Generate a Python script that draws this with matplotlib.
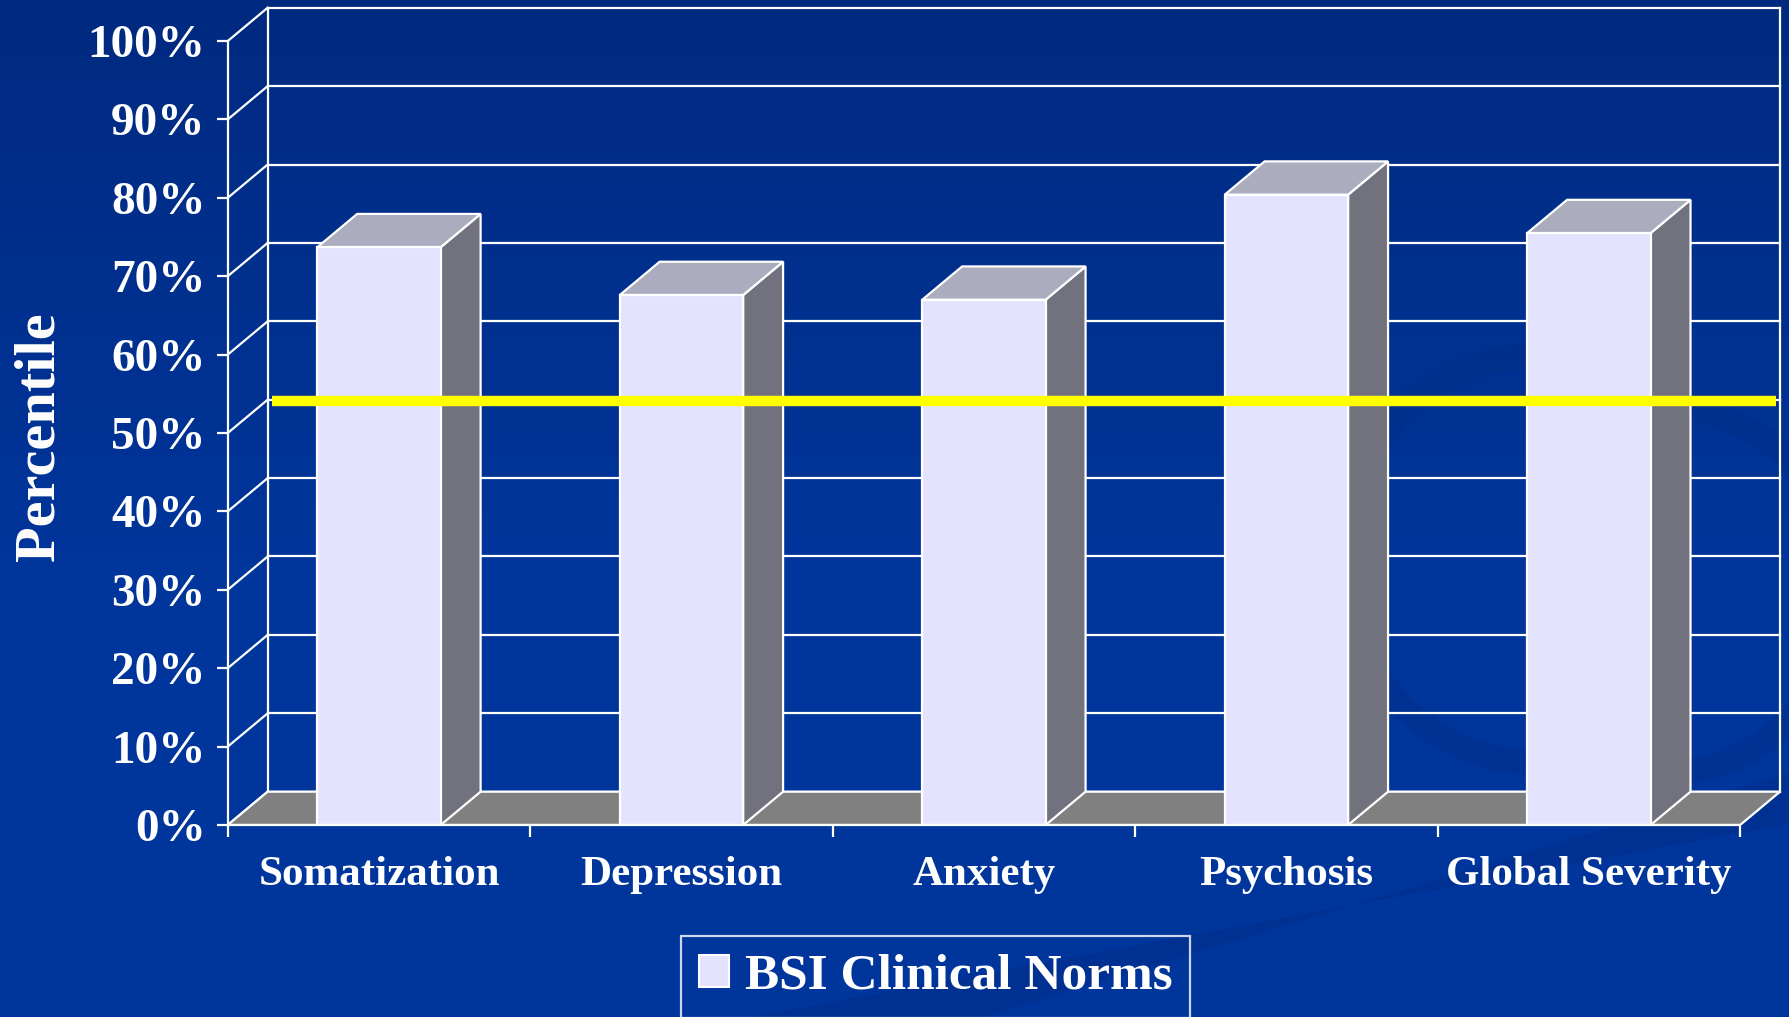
import matplotlib.pyplot as plt
import matplotlib.patches as patches
from matplotlib.colors import LinearSegmentedColormap
import numpy as np

categories = ["Somatization", "Depression", "Anxiety", "Psychosis", "Global Severity"]
percentiles = [73.7, 67.6, 67.0, 80.4, 75.5]
series_name = "BSI Clinical Norms"
yticks = list(range(0, 101, 10))
ytick_labels = [f"{v}%" for v in yticks]
reference_level = 54.1  # yellow line

BG = "#00359b"
FRONT = "#e3e3ff"
TOP = "#abacbe"
SIDE = "#72727f"
FLOOR = "#808080"
YELLOW = "#ffff00"

# 3d look: depth offset in data units, bar width in category units
DX, DY = 0.132, 4.25
BAR_W = 0.408
LW = 1.6

plt.rcParams["font.family"] = ["Liberation Serif", "DejaVu Serif"]
plt.rcParams["font.weight"] = "bold"

fig = plt.figure(figsize=(17.89, 10.17), dpi=100)
fig.patch.set_facecolor(BG)

# slide background: darker at the top, faint swirl bands
bg = fig.add_axes([0, 0, 1, 1], zorder=-10)
bg.axis("off")
grad = np.clip(np.linspace(0, 1, 256) / 0.55, 0, 1)[:, None]
cmap = LinearSegmentedColormap.from_list("bg", ["#002a80", BG])
bg.imshow(grad, cmap=cmap, aspect="auto", extent=[0, 1, 0, 1], origin="upper")
bg.add_patch(patches.Polygon([(0.42, 0.0), (1.0, 0.19), (1.0, 0.24), (0.55, 0.0)],
                             closed=True, facecolor="#002a80", alpha=0.3, lw=0))
for cx, cy, w, h, t1, t2 in [(0.86, 0.45, 0.22, 0.40, 90, 270),
                             (0.93, 0.42, 0.20, 0.36, 270, 90)]:
    bg.add_patch(patches.Arc((cx, cy), w, h, theta1=t1, theta2=t2,
                             color="#002a80", lw=18, alpha=0.28))
bg.set_xlim(0, 1)
bg.set_ylim(0, 1)

n = len(categories)
ax = fig.add_axes([0.1273, 0.1888, 0.8677, 0.8036])
ax.set_xlim(0, n + DX)
ax.set_ylim(0, 100 + DY)
ax.patch.set_alpha(0)

# back wall grid and side diagonals
for v in yticks:
    ax.plot([DX, n + DX], [v + DY, v + DY], color="white", lw=LW, zorder=1, clip_on=False)
    ax.plot([0, DX], [v, v + DY], color="white", lw=LW, zorder=1, clip_on=False)
for xw in (DX, n + DX):
    ax.plot([xw, xw], [DY, 100 + DY], color="white", lw=LW, zorder=1, clip_on=False)

# floor
ax.add_patch(patches.Polygon([(0, 0), (n, 0), (n + DX, DY), (DX, DY)], closed=True,
                             facecolor=FLOOR, edgecolor="white", lw=LW, zorder=2))

# bars
for i, v in enumerate(percentiles):
    x0 = i + 0.5 - BAR_W / 2
    x1 = x0 + BAR_W
    side = [(x1, 0), (x1 + DX, DY), (x1 + DX, v + DY), (x1, v)]
    top = [(x0, v), (x1, v), (x1 + DX, v + DY), (x0 + DX, v + DY)]
    ax.add_patch(patches.Polygon(side, closed=True, facecolor=SIDE,
                                 edgecolor="white", lw=LW, zorder=3))
    ax.add_patch(patches.Polygon(top, closed=True, facecolor=TOP,
                                 edgecolor="white", lw=LW, zorder=3))
    ax.add_patch(patches.Rectangle((x0, 0), BAR_W, v, facecolor=FRONT,
                                   edgecolor="white", lw=LW, zorder=4))

# yellow reference line
ax.plot([DX + 0.015, n + DX - 0.013], [reference_level, reference_level],
        color=YELLOW, lw=7.5, solid_capstyle="butt", zorder=10)

# axes
for s in ("top", "right"):
    ax.spines[s].set_visible(False)
ax.spines["left"].set_bounds(0, 100)
ax.spines["bottom"].set_bounds(0, n)
for s in ("left", "bottom"):
    ax.spines[s].set_color("white")
    ax.spines[s].set_linewidth(LW)
    ax.spines[s].set_zorder(5)

ax.set_yticks(yticks, ytick_labels)
ax.tick_params(axis="y", colors="white", length=8, width=LW, pad=8, labelsize=34)
ax.set_xticks(range(n + 1), [""] * (n + 1))
ax.set_xticks([i + 0.5 for i in range(n)], categories, minor=True)
ax.tick_params(axis="x", which="major", colors="white", length=8.4, width=LW)
ax.tick_params(axis="x", which="minor", colors="white", length=0, pad=22, labelsize=31)

fig.text(40 / 1789, 1 - 437 / 1017, "Percentile", rotation=90, ha="center",
         va="center", fontsize=42, color="white", fontweight="bold")

handle = patches.Patch(facecolor=FRONT, edgecolor="white", lw=1.5)
leg = fig.legend([handle], [series_name], loc="upper center",
                 bbox_to_anchor=(935.5 / 1789, 1 - 936 / 1017), fontsize=37,
                 frameon=True, edgecolor="white", facecolor="none", fancybox=False,
                 handlelength=0.6, handleheight=0.6, handletextpad=0.3,
                 borderpad=0.35, borderaxespad=0, labelcolor="white")
leg.get_frame().set_linewidth(LW)

fig.savefig("out.png", dpi=100, facecolor=fig.get_facecolor())
